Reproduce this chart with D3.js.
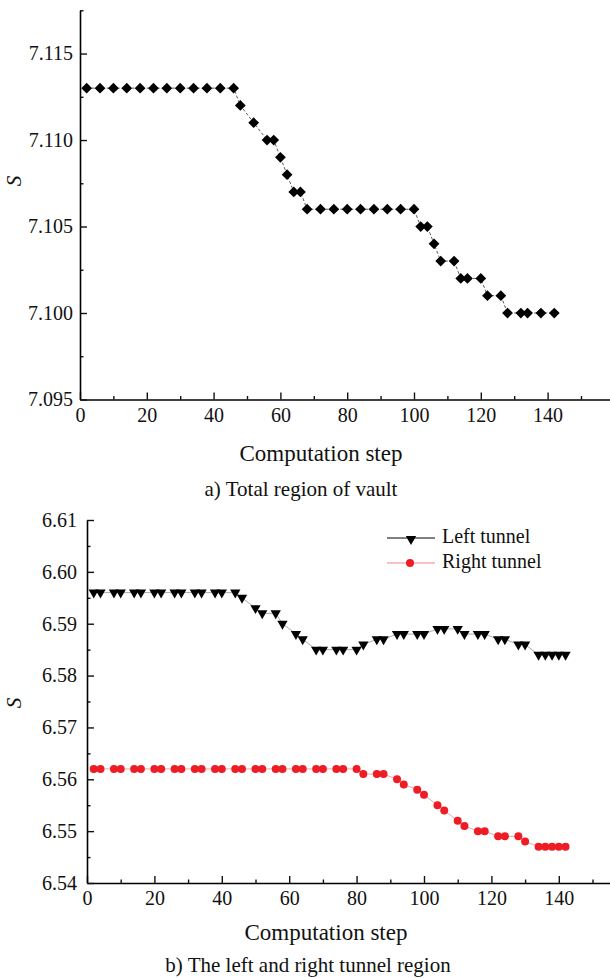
<!DOCTYPE html>
<html lang="en">
  <head>
    <meta charset="UTF-8" />
    <title>Computation step vs S</title>
    <script src="https://d3js.org/d3.v7.min.js"></script>
    <style>
      body { margin: 0; background: #fff; }
      svg text { font-family: "Liberation Serif", "Times New Roman", serif; fill: #111; }
    </style>
  </head>
  <body>
    <div id="chart"></div>
    <script>
      // a) total region of vault
      const vaultSteps = [2, 6, 10, 14, 18, 22, 26, 30, 34, 38, 42, 46, 48, 52, 56, 58, 60, 62, 64, 66,
        68, 72, 76, 80, 84, 88, 92, 96, 100, 102, 104, 106, 108, 112, 114, 116, 120, 122, 126, 128,
        132, 134, 138, 142];
      const vaultS = [7.113, 7.113, 7.113, 7.113, 7.113, 7.113, 7.113, 7.113, 7.113, 7.113, 7.113, 7.113,
        7.112, 7.111, 7.110, 7.110, 7.109, 7.108, 7.107, 7.107,
        7.106, 7.106, 7.106, 7.106, 7.106, 7.106, 7.106, 7.106, 7.106,
        7.105, 7.105, 7.104, 7.103, 7.103, 7.102, 7.102, 7.102, 7.101, 7.101,
        7.100, 7.100, 7.100, 7.100, 7.100];

      // b) left and right tunnel
      const tunnelSteps = [2, 4, 8, 10, 14, 16, 20, 22, 26, 28, 32, 34, 38, 40, 44, 46, 50, 52, 56, 58,
        62, 64, 68, 70, 74, 76, 80, 82, 86, 88, 92, 94, 98, 100, 104, 106, 110, 112, 116, 118,
        122, 124, 128, 130, 134, 136, 138, 140, 142];
      const leftS = [6.596, 6.596, 6.596, 6.596, 6.596, 6.596, 6.596, 6.596, 6.596, 6.596, 6.596, 6.596, 6.596, 6.596,
        6.596, 6.595, 6.593, 6.592, 6.592, 6.590, 6.588, 6.587, 6.585, 6.585, 6.585, 6.585,
        6.585, 6.586, 6.587, 6.587, 6.588, 6.588, 6.588, 6.588, 6.589, 6.589, 6.589, 6.588,
        6.588, 6.588, 6.587, 6.587, 6.586, 6.586,
        6.584, 6.584, 6.584, 6.584, 6.584];
      const rightS = [6.562, 6.562, 6.562, 6.562, 6.562, 6.562, 6.562, 6.562, 6.562, 6.562, 6.562, 6.562, 6.562,
        6.562, 6.562, 6.562, 6.562, 6.562, 6.562, 6.562, 6.562, 6.562, 6.562, 6.562, 6.562, 6.562,
        6.562, 6.561, 6.561, 6.561, 6.560, 6.559, 6.558, 6.557, 6.555, 6.554, 6.552, 6.551,
        6.550, 6.550, 6.549, 6.549, 6.549, 6.548,
        6.547, 6.547, 6.547, 6.547, 6.547];

      const xMajor = [0, 20, 40, 60, 80, 100, 120, 140];
      const xMinor = [10, 30, 50, 70, 90, 110, 130, 150];
      const vaultYMajor = [7.095, 7.100, 7.105, 7.110, 7.115];
      const vaultYMinor = [7.0975, 7.1025, 7.1075, 7.1125, 7.1175];
      const tunnelYMajor = [6.54, 6.55, 6.56, 6.57, 6.58, 6.59, 6.60, 6.61];
      const tunnelYMinor = [6.545, 6.555, 6.565, 6.575, 6.585, 6.595, 6.605];

      const W = 610, H = 978;
      const svg = d3.select("#chart").append("svg").attr("width", W).attr("height", H);

      function drawAxes(g, x, y, yMajor, yMinor, yFmt, yPad) {
        // minor ticks first, then major with labels
        g.append("g").attr("transform", `translate(0,${y.range()[0]})`)
          .call(d3.axisBottom(x).tickValues(xMinor).tickSize(-3.5).tickFormat(""))
          .call(a => a.select(".domain").remove());
        g.append("g").attr("transform", `translate(0,${y.range()[0]})`)
          .call(d3.axisBottom(x).tickValues(xMajor).tickSizeInner(-7).tickSizeOuter(0).tickPadding(8))
          .call(a => a.select(".domain").attr("stroke-width", 1.6));
        g.append("g").attr("transform", `translate(${x.range()[0]},0)`)
          .call(d3.axisLeft(y).tickValues(yMinor).tickSize(-3.5).tickFormat(""))
          .call(a => a.select(".domain").remove());
        g.append("g").attr("transform", `translate(${x.range()[0]},0)`)
          .call(d3.axisLeft(y).tickValues(yMajor).tickSizeInner(-7).tickSizeOuter(0).tickPadding(yPad).tickFormat(d3.format(yFmt)))
          .call(a => a.select(".domain").attr("stroke-width", 1.6));
        g.selectAll(".tick line").attr("stroke", "#111").attr("stroke-width", 1.4);
        g.selectAll(".tick text").attr("font-size", 20);
      }

      // ---- chart a ----
      const xa = d3.scaleLinear().domain([0, 160]).range([80, 80 + 160 * 3.34]);
      const ya = d3.scaleLinear().domain([7.095, 7.1175]).range([399.5, 10.3]);
      const ga = svg.append("g");
      drawAxes(ga, xa, ya, vaultYMajor, vaultYMinor, ".3f", 7);

      const vaultPts = vaultSteps.map((s, i) => [s, vaultS[i]]);
      ga.append("path").datum(vaultPts)
        .attr("fill", "none").attr("stroke", "#333").attr("stroke-width", 0.8)
        .attr("stroke-dasharray", "3,2")
        .attr("d", d3.line().x(d => xa(d[0])).y(d => ya(d[1])));
      ga.selectAll(".dia").data(vaultPts).enter().append("path")
        .attr("class", "dia")
        .attr("transform", d => `translate(${xa(d[0])},${ya(d[1])}) rotate(45)`)
        .attr("d", d3.symbol(d3.symbolSquare, 58))
        .attr("fill", "#000");

      ga.append("text").attr("x", 321).attr("y", 456).attr("text-anchor", "middle")
        .attr("dominant-baseline", "middle").attr("font-size", 23).text("Computation step");
      ga.append("text").attr("x", 301).attr("y", 491).attr("text-anchor", "middle")
        .attr("dominant-baseline", "middle").attr("font-size", 21).text("a) Total region of vault");
      ga.append("text").attr("transform", "translate(16,181) rotate(-90)").attr("text-anchor", "middle")
        .attr("dominant-baseline", "middle").attr("font-size", 21).attr("font-style", "italic").text("S");

      // ---- chart b ----
      const xb = d3.scaleLinear().domain([0, 160]).range([87, 87 + 160 * 3.37]);
      const yb = d3.scaleLinear().domain([6.54, 6.61]).range([883, 520]);
      const gb = svg.append("g");
      drawAxes(gb, xb, yb, tunnelYMajor, tunnelYMinor, ".2f", 10);

      const leftPts = tunnelSteps.map((s, i) => [s, leftS[i]]);
      const rightPts = tunnelSteps.map((s, i) => [s, rightS[i]]);
      const lineB = d3.line().x(d => xb(d[0])).y(d => yb(d[1]));
      gb.append("path").datum(leftPts).attr("fill", "none").attr("stroke", "#aaa").attr("stroke-width", 1).attr("d", lineB);
      gb.append("path").datum(rightPts).attr("fill", "none").attr("stroke", "#f4a3a3").attr("stroke-width", 1).attr("d", lineB);

      const tri = d3.symbol(d3.symbolTriangle, 46);
      gb.selectAll(".tri").data(leftPts).enter().append("path")
        .attr("transform", d => `translate(${xb(d[0])},${yb(d[1])}) rotate(180)`)
        .attr("d", tri).attr("fill", "#000");
      gb.selectAll(".dot").data(rightPts).enter().append("circle")
        .attr("cx", d => xb(d[0])).attr("cy", d => yb(d[1])).attr("r", 4)
        .attr("fill", "#ee1c25");

      // legend
      const lg = gb.append("g");
      lg.append("line").attr("x1", 387).attr("x2", 435).attr("y1", 538).attr("y2", 538).attr("stroke", "#000").attr("stroke-width", 1.2);
      lg.append("path").attr("transform", "translate(411,539) rotate(180)").attr("d", tri).attr("fill", "#000");
      lg.append("text").attr("x", 442).attr("y", 538).attr("dominant-baseline", "middle").attr("font-size", 20).text("Left tunnel");
      lg.append("line").attr("x1", 387).attr("x2", 435).attr("y1", 563).attr("y2", 563).attr("stroke", "#f08a8a").attr("stroke-width", 1.2);
      lg.append("circle").attr("cx", 410).attr("cy", 563).attr("r", 4).attr("fill", "#ee1c25");
      lg.append("text").attr("x", 442).attr("y", 563).attr("dominant-baseline", "middle").attr("font-size", 20).text("Right tunnel");

      gb.append("text").attr("x", 326).attr("y", 935).attr("text-anchor", "middle")
        .attr("dominant-baseline", "middle").attr("font-size", 23).text("Computation step");
      gb.append("text").attr("x", 308).attr("y", 967).attr("text-anchor", "middle")
        .attr("dominant-baseline", "middle").attr("font-size", 21).text("b) The left and right tunnel region");
      gb.append("text").attr("transform", "translate(16,703) rotate(-90)").attr("text-anchor", "middle")
        .attr("dominant-baseline", "middle").attr("font-size", 21).attr("font-style", "italic").text("S");
    </script>
  </body>
</html>
